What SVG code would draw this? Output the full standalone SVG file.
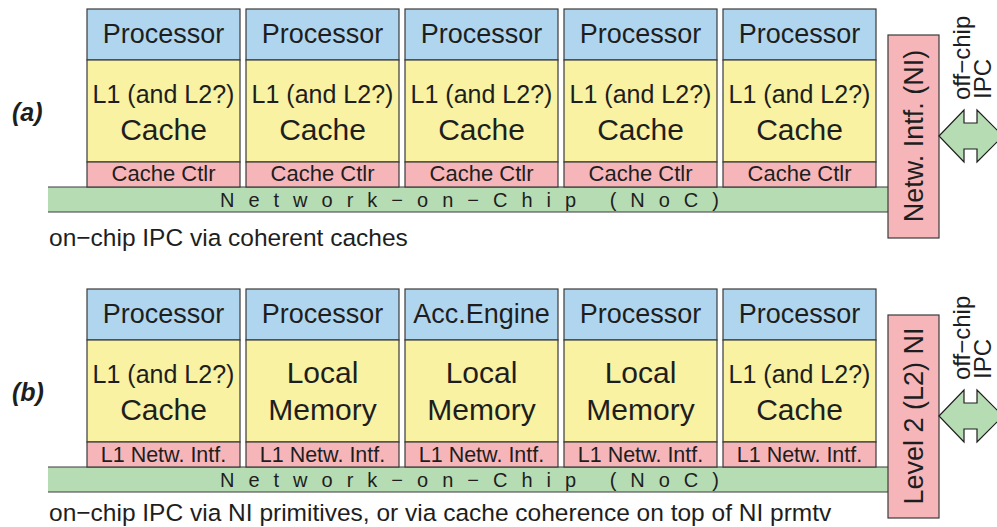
<svg xmlns="http://www.w3.org/2000/svg" width="997" height="527" viewBox="0 0 997 527">
<defs>
<style>
text{font-family:"Liberation Sans",Arial,sans-serif;fill:#1e1e1e}
.pr{fill:#b0d6ef;stroke:#3a3a3a;stroke-width:1.2}
.ca{fill:#f8f2a2;stroke:#3a3a3a;stroke-width:1.2}
.ct{fill:#f6b6b9;stroke:#3a3a3a;stroke-width:1.2}
.ni{fill:#f6b6b9;stroke:#3a3a3a;stroke-width:1.2}
.noc{fill:#b6dcb4}
.ln{stroke:#3a3a3a;stroke-width:1.2}
.ar{fill:#b6dcb4;stroke:#1e1e1e;stroke-width:1.2}
.t27{font-size:27px;text-anchor:middle}
.t25{font-size:25px;text-anchor:middle}
.t30{font-size:30px;text-anchor:middle}
.t22{font-size:22px;text-anchor:middle}
.t21{font-size:21.5px;text-anchor:middle}
.noct{font-size:20px;letter-spacing:14px}
.cap{font-size:24.5px}
.lab{font-size:25px;font-weight:bold;font-style:italic}
.nit{font-size:27px;text-anchor:middle}
.off{font-size:24px}
</style>
</defs>

<g id="label-a"><text class="lab" x="12" y="121">(a)</text></g>
<g id="label-b"><text class="lab" x="12" y="401">(b)</text></g>

<!-- Section (a) -->
<g id="a-noc">
<rect class="noc" x="48" y="187" width="840" height="25"/>
<line class="ln" x1="48" y1="187" x2="888" y2="187"/>
<line class="ln" x1="48" y1="212" x2="888" y2="212"/>
<text class="noct" x="220" y="207">Network−on−Chip (NoC)</text>
</g>
<g id="a-col1">
<rect class="pr" x="87" y="9" width="153" height="51"/><text class="t27" x="163.5" y="43">Processor</text>
<rect class="ca" x="87" y="60" width="153" height="102"/><text class="t25" x="163.5" y="103">L1 (and L2?)</text><text class="t30" x="163.5" y="140">Cache</text>
<rect class="ct" x="87" y="162" width="153" height="25"/><text class="t22" x="163.5" y="181">Cache Ctlr</text>
</g>
<g id="a-col2">
<rect class="pr" x="246" y="9" width="153" height="51"/><text class="t27" x="322.5" y="43">Processor</text>
<rect class="ca" x="246" y="60" width="153" height="102"/><text class="t25" x="322.5" y="103">L1 (and L2?)</text><text class="t30" x="322.5" y="140">Cache</text>
<rect class="ct" x="246" y="162" width="153" height="25"/><text class="t22" x="322.5" y="181">Cache Ctlr</text>
</g>
<g id="a-col3">
<rect class="pr" x="405" y="9" width="153" height="51"/><text class="t27" x="481.5" y="43">Processor</text>
<rect class="ca" x="405" y="60" width="153" height="102"/><text class="t25" x="481.5" y="103">L1 (and L2?)</text><text class="t30" x="481.5" y="140">Cache</text>
<rect class="ct" x="405" y="162" width="153" height="25"/><text class="t22" x="481.5" y="181">Cache Ctlr</text>
</g>
<g id="a-col4">
<rect class="pr" x="564" y="9" width="153" height="51"/><text class="t27" x="640.5" y="43">Processor</text>
<rect class="ca" x="564" y="60" width="153" height="102"/><text class="t25" x="640.5" y="103">L1 (and L2?)</text><text class="t30" x="640.5" y="140">Cache</text>
<rect class="ct" x="564" y="162" width="153" height="25"/><text class="t22" x="640.5" y="181">Cache Ctlr</text>
</g>
<g id="a-col5">
<rect class="pr" x="723" y="9" width="153" height="51"/><text class="t27" x="799.5" y="43">Processor</text>
<rect class="ca" x="723" y="60" width="153" height="102"/><text class="t25" x="799.5" y="103">L1 (and L2?)</text><text class="t30" x="799.5" y="140">Cache</text>
<rect class="ct" x="723" y="162" width="153" height="25"/><text class="t22" x="799.5" y="181">Cache Ctlr</text>
</g>
<g id="a-ni">
<rect class="ni" x="888" y="35" width="51" height="203"/>
<text class="nit" transform="translate(922.5,136) rotate(-90)">Netw. Intf. (NI)</text>
</g>
<g id="a-offchip">
<text class="off" transform="translate(970,100) rotate(-90)">off−chip</text>
<text class="off" transform="translate(991,99) rotate(-90)">IPC</text>
</g>
<g id="a-caption"><text class="cap" x="49" y="246">on−chip IPC via coherent caches</text></g>

<!-- Section (b) -->
<g id="b-noc">
<rect class="noc" x="48" y="467" width="840" height="25"/>
<line class="ln" x1="48" y1="467" x2="888" y2="467"/>
<line class="ln" x1="48" y1="492" x2="888" y2="492"/>
<text class="noct" x="220" y="487">Network−on−Chip (NoC)</text>
</g>
<g id="b-col1">
<rect class="pr" x="87" y="289" width="153" height="51"/><text class="t27" x="163.5" y="323">Processor</text>
<rect class="ca" x="87" y="340" width="153" height="102"/><text class="t25" x="163.5" y="383">L1 (and L2?)</text><text class="t30" x="163.5" y="420">Cache</text>
<rect class="ct" x="87" y="442" width="153" height="25"/><text class="t21" x="163.5" y="462">L1 Netw. Intf.</text>
</g>
<g id="b-col2">
<rect class="pr" x="246" y="289" width="153" height="51"/><text class="t27" x="322.5" y="323">Processor</text>
<rect class="ca" x="246" y="340" width="153" height="102"/><text class="t30" x="322.5" y="383">Local</text><text class="t30" x="322.5" y="420">Memory</text>
<rect class="ct" x="246" y="442" width="153" height="25"/><text class="t21" x="322.5" y="462">L1 Netw. Intf.</text>
</g>
<g id="b-col3">
<rect class="pr" x="405" y="289" width="153" height="51"/><text class="t27" x="481.5" y="323">Acc.Engine</text>
<rect class="ca" x="405" y="340" width="153" height="102"/><text class="t30" x="481.5" y="383">Local</text><text class="t30" x="481.5" y="420">Memory</text>
<rect class="ct" x="405" y="442" width="153" height="25"/><text class="t21" x="481.5" y="462">L1 Netw. Intf.</text>
</g>
<g id="b-col4">
<rect class="pr" x="564" y="289" width="153" height="51"/><text class="t27" x="640.5" y="323">Processor</text>
<rect class="ca" x="564" y="340" width="153" height="102"/><text class="t30" x="640.5" y="383">Local</text><text class="t30" x="640.5" y="420">Memory</text>
<rect class="ct" x="564" y="442" width="153" height="25"/><text class="t21" x="640.5" y="462">L1 Netw. Intf.</text>
</g>
<g id="b-col5">
<rect class="pr" x="723" y="289" width="153" height="51"/><text class="t27" x="799.5" y="323">Processor</text>
<rect class="ca" x="723" y="340" width="153" height="102"/><text class="t25" x="799.5" y="383">L1 (and L2?)</text><text class="t30" x="799.5" y="420">Cache</text>
<rect class="ct" x="723" y="442" width="153" height="25"/><text class="t21" x="799.5" y="462">L1 Netw. Intf.</text>
</g>
<g id="b-ni">
<rect class="ni" x="888" y="315" width="51" height="203"/>
<text class="nit" transform="translate(922.5,416) rotate(-90)">Level 2 (L2) NI</text>
</g>
<g id="b-offchip">
<text class="off" transform="translate(970,380) rotate(-90)">off−chip</text>
<text class="off" transform="translate(991,379) rotate(-90)">IPC</text>
</g>
<g id="b-caption"><text class="cap" x="49" y="521">on−chip IPC via NI primitives, or via cache coherence on top of NI prmtv</text></g>

<g id="connectors">
<polygon class="ar" points="939,136 964,110 964,123 977,123 977,110 1003,136 977,162 977,149 964,149 964,162"/>
<polygon class="ar" points="939,416 964,390 964,403 977,403 977,390 1003,416 977,442 977,429 964,429 964,442"/>
</g>
</svg>
